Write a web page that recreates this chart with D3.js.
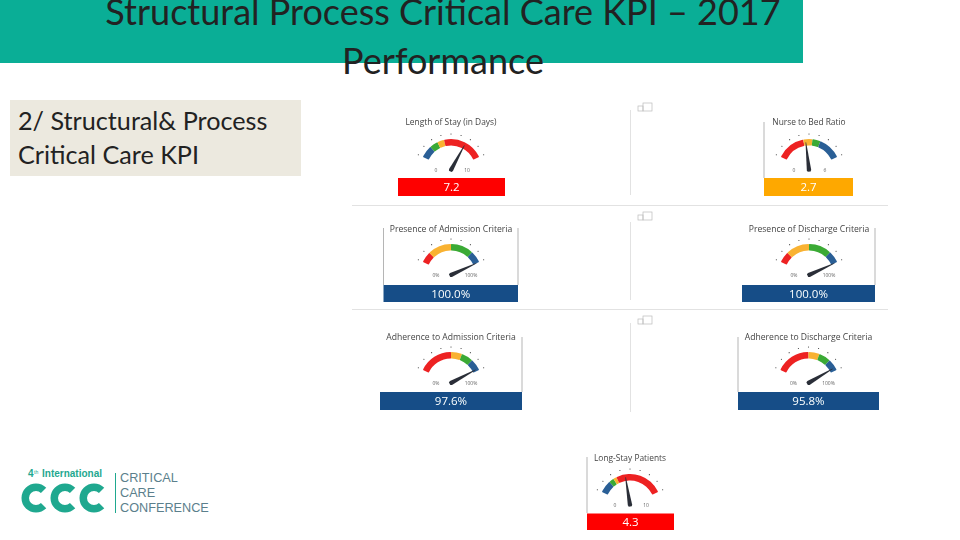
<!DOCTYPE html>
<html><head><meta charset="utf-8">
<script src="https://cdnjs.cloudflare.com/ajax/libs/d3/7.8.5/d3.min.js"></script>
<style>html,body{margin:0;padding:0;background:#fff}svg{display:block}</style></head>
<body><svg id="c" width="960" height="540"><defs><filter id="soft" x="-5%" y="-5%" width="110%" height="110%"><feGaussianBlur stdDeviation="0.4"/></filter></defs></svg>
<script>
// ---- data ----
const gaugeTitles = ["Length of Stay (in Days)","Nurse to Bed Ratio","Presence of Admission Criteria","Presence of Discharge Criteria","Adherence to Admission Criteria","Adherence to Discharge Criteria","Long-Stay Patients"];
const gaugeValues = [7.2,2.7,100,100,97.6,95.8,4.3];
const gaugeValueLabels = ["7.2","2.7","100.0%","100.0%","97.6%","95.8%","4.3"];
const gaugeMax = [10,6,100,100,100,100,10];
const gaugeMinLabels = ["0","0","0%","0%","0%","0%","0"];
const gaugeMaxLabels = ["10","6","100%","100%","100%","100%","10"];
const gaugeBreaks = [[0,1.8,3,4,10],[0,2.5,3.3,4,6],[0,16,50,83,100],[0,16,50,83,100],[0,50,66,83,100],[0,50,66,83,100],[0,1.8,2.5,3,10]];
const gaugeBandColors = [["#2a5f96","#3aaa35","#f9b233","#ed2024"],["#ed2024","#f9b233","#3aaa35","#2a5f96"],["#ed2024","#f9b233","#3aaa35","#2a5f96"],["#ed2024","#f9b233","#3aaa35","#2a5f96"],["#ed2024","#f9b233","#3aaa35","#2a5f96"],["#ed2024","#f9b233","#3aaa35","#2a5f96"],["#2a5f96","#3aaa35","#f9b233","#ed2024"]];
const gaugeBoxColors = ["#fe0000","#fea800","#134e87","#134e87","#134e87","#134e87","#fe0000"];
// ---- layout ----
const layout = [
 {cx:451,cy:170,ty:122,box:[398,178,107,18],lines:[]},
 {cx:809,cy:170,ty:122,box:[764,178,89,18],lines:[[764,122,178]]},
 {cx:451,cy:275,ty:229,box:[383.5,285,134.5,17],lines:[[383.5,228,285],[518,228,285]]},
 {cx:809,cy:275,ty:229,box:[742,285,133,17],lines:[[875,228,285]]},
 {cx:451,cy:383,ty:337,box:[380,392,142,18],lines:[[522,337,392]]},
 {cx:808.5,cy:383,ty:337,box:[738,392,141,18],lines:[[738,337,392]]},
 {cx:630,cy:505,ty:458,box:[587,513.5,87,16.5],lines:[[587,457,513]]}
];
const svg = d3.select("#c");
const FONT = "'Open Sans',sans-serif";

// header
svg.append("rect").attr("x",0).attr("y",0).attr("width",803).attr("height",63).attr("fill","#0aae96");
const titleLines = [{t:"Structural Process Critical Care KPI – 2017",y:25},{t:"Performance",y:74}];
svg.selectAll("text.title").data(titleLines).join("text").attr("class","title")
 .attr("x",443).attr("y",d=>d.y).attr("text-anchor","middle")
 .attr("font-family","Lato").attr("font-size",36).attr("fill","#222").text(d=>d.t);

// subtitle box
svg.append("rect").attr("x",10).attr("y",100).attr("width",291).attr("height",76).attr("fill","#ece9df");
svg.selectAll("text.sub").data([{t:"2/ Structural& Process",y:130},{t:"Critical Care KPI",y:164}]).join("text").attr("class","sub")
 .attr("x",18).attr("y",d=>d.y).attr("font-family","Lato").attr("font-size",25.2).attr("fill","#222").text(d=>d.t);

// dashboard separators
[205.5,309.5].forEach(y=>svg.append("line").attr("x1",352).attr("x2",888).attr("y1",y).attr("y2",y).attr("stroke","#e2e2e2"));
[[110,195],[222,300],[323,412]].forEach(s=>svg.append("line").attr("x1",630.5).attr("x2",630.5).attr("y1",s[0]).attr("y2",s[1]).attr("stroke","#e2e2e2"));
[[638,103],[638,212],[638,316]].forEach(p=>{
  const g=svg.append("g").attr("transform",`translate(${p[0]},${p[1]})`).attr("fill","none").attr("stroke","#bbb").attr("stroke-width",.7);
  g.append("rect").attr("x",0).attr("y",3).attr("width",5).attr("height",5);
  g.append("rect").attr("x",5).attr("y",0).attr("width",9).attr("height",8);
});

// gauges
const deg = Math.PI/180;
const arc = d3.arc().innerRadius(24.5).outerRadius(31).cornerRadius(.6);
gaugeTitles.forEach((title,i)=>{
  const L = layout[i];
  const angle = d3.scaleLinear().domain([0,gaugeMax[i]]).range([-65,65]);
  const root = svg.append("g").attr("filter","url(#soft)");
  L.lines.forEach(l=>root.append("line").attr("x1",l[0]).attr("x2",l[0]).attr("y1",l[1]).attr("y2",l[2]).attr("stroke","#b5b5b5"));
  root.append("text").attr("x",L.cx).attr("y",L.ty+3).attr("text-anchor","middle").attr("font-family",FONT).attr("font-size",i>=2&&i<=5?8.6:8.4).attr("fill","#444").text(title);
  const g = root.append("g").attr("transform",`translate(${L.cx},${L.cy})`);
  const br = gaugeBreaks[i];
  g.selectAll("path.band").data(d3.pairs(br)).join("path").attr("class","band")
    .attr("d",d=>arc({startAngle:angle(d[0])*deg,endAngle:angle(d[1])*deg}))
    .attr("fill",(d,j)=>gaugeBandColors[i][j]);
  g.selectAll("circle.tick").data(d3.range(9).map(k=>k/8*gaugeMax[i])).join("circle").attr("class","tick")
    .attr("cx",d=>36*Math.sin(angle(d)*deg)).attr("cy",d=>-36*Math.cos(angle(d)*deg))
    .attr("r",.55).attr("fill","#333");
  g.append("text").attr("x",-15).attr("y",2).attr("text-anchor","middle").attr("font-family",FONT).attr("font-size",5).attr("fill","#666").text(gaugeMinLabels[i]);
  g.append("text").attr("x",gaugeMaxLabels[i].length>2?20:16).attr("y",2).attr("text-anchor","middle").attr("font-family",FONT).attr("font-size",5).attr("fill","#666").text(gaugeMaxLabels[i]);
  g.append("g").attr("transform",`rotate(${angle(gaugeValues[i])})`).append("path")
    .attr("d",d3.line()([[-2.2,0],[-.3,-28],[.3,-28],[2.2,0],[1.5,1.6],[-1.5,1.6]])).attr("fill","#2b2f38");
  root.append("rect").attr("x",L.box[0]).attr("y",L.box[1]).attr("width",L.box[2]).attr("height",L.box[3]).attr("fill",gaugeBoxColors[i]);
  root.append("text").attr("x",L.box[0]+L.box[2]/2).attr("y",L.box[1]+L.box[3]/2+4.2).attr("text-anchor","middle")
    .attr("font-family",FONT).attr("font-size",11.5).attr("fill","#fff").text(gaugeValueLabels[i]);
});

// conference logo
const teal="#1fa88f";
const logo = svg.append("g");
logo.append("text").attr("x",28).attr("y",477).attr("font-family","Liberation Sans").attr("font-size",10).attr("font-weight","bold").attr("fill",teal).text("4");
logo.append("text").attr("x",34).attr("y",474).attr("font-family","Liberation Sans").attr("font-size",5).attr("fill",teal).text("th");
logo.append("text").attr("x",42).attr("y",477).attr("font-family","Liberation Sans").attr("font-size",10).attr("font-weight","bold").attr("fill",teal).text("International");
const cArc = d3.arc().innerRadius(7).outerRadius(14.5);
[36,65,94].forEach(x=>logo.append("path").attr("transform",`translate(${x},498)`).attr("fill",teal)
  .attr("d",cArc({startAngle:135*deg,endAngle:405*deg})));
logo.append("line").attr("x1",115.5).attr("x2",115.5).attr("y1",473).attr("y2",513).attr("stroke",teal);
[["CRITICAL",482],["CARE",497],["CONFERENCE",512]].forEach(d=>logo.append("text").attr("x",120).attr("y",d[1])
  .attr("font-family","Liberation Sans").attr("font-size",12.7).attr("fill","#5b7f8c").text(d[0]));
</script></body></html>
